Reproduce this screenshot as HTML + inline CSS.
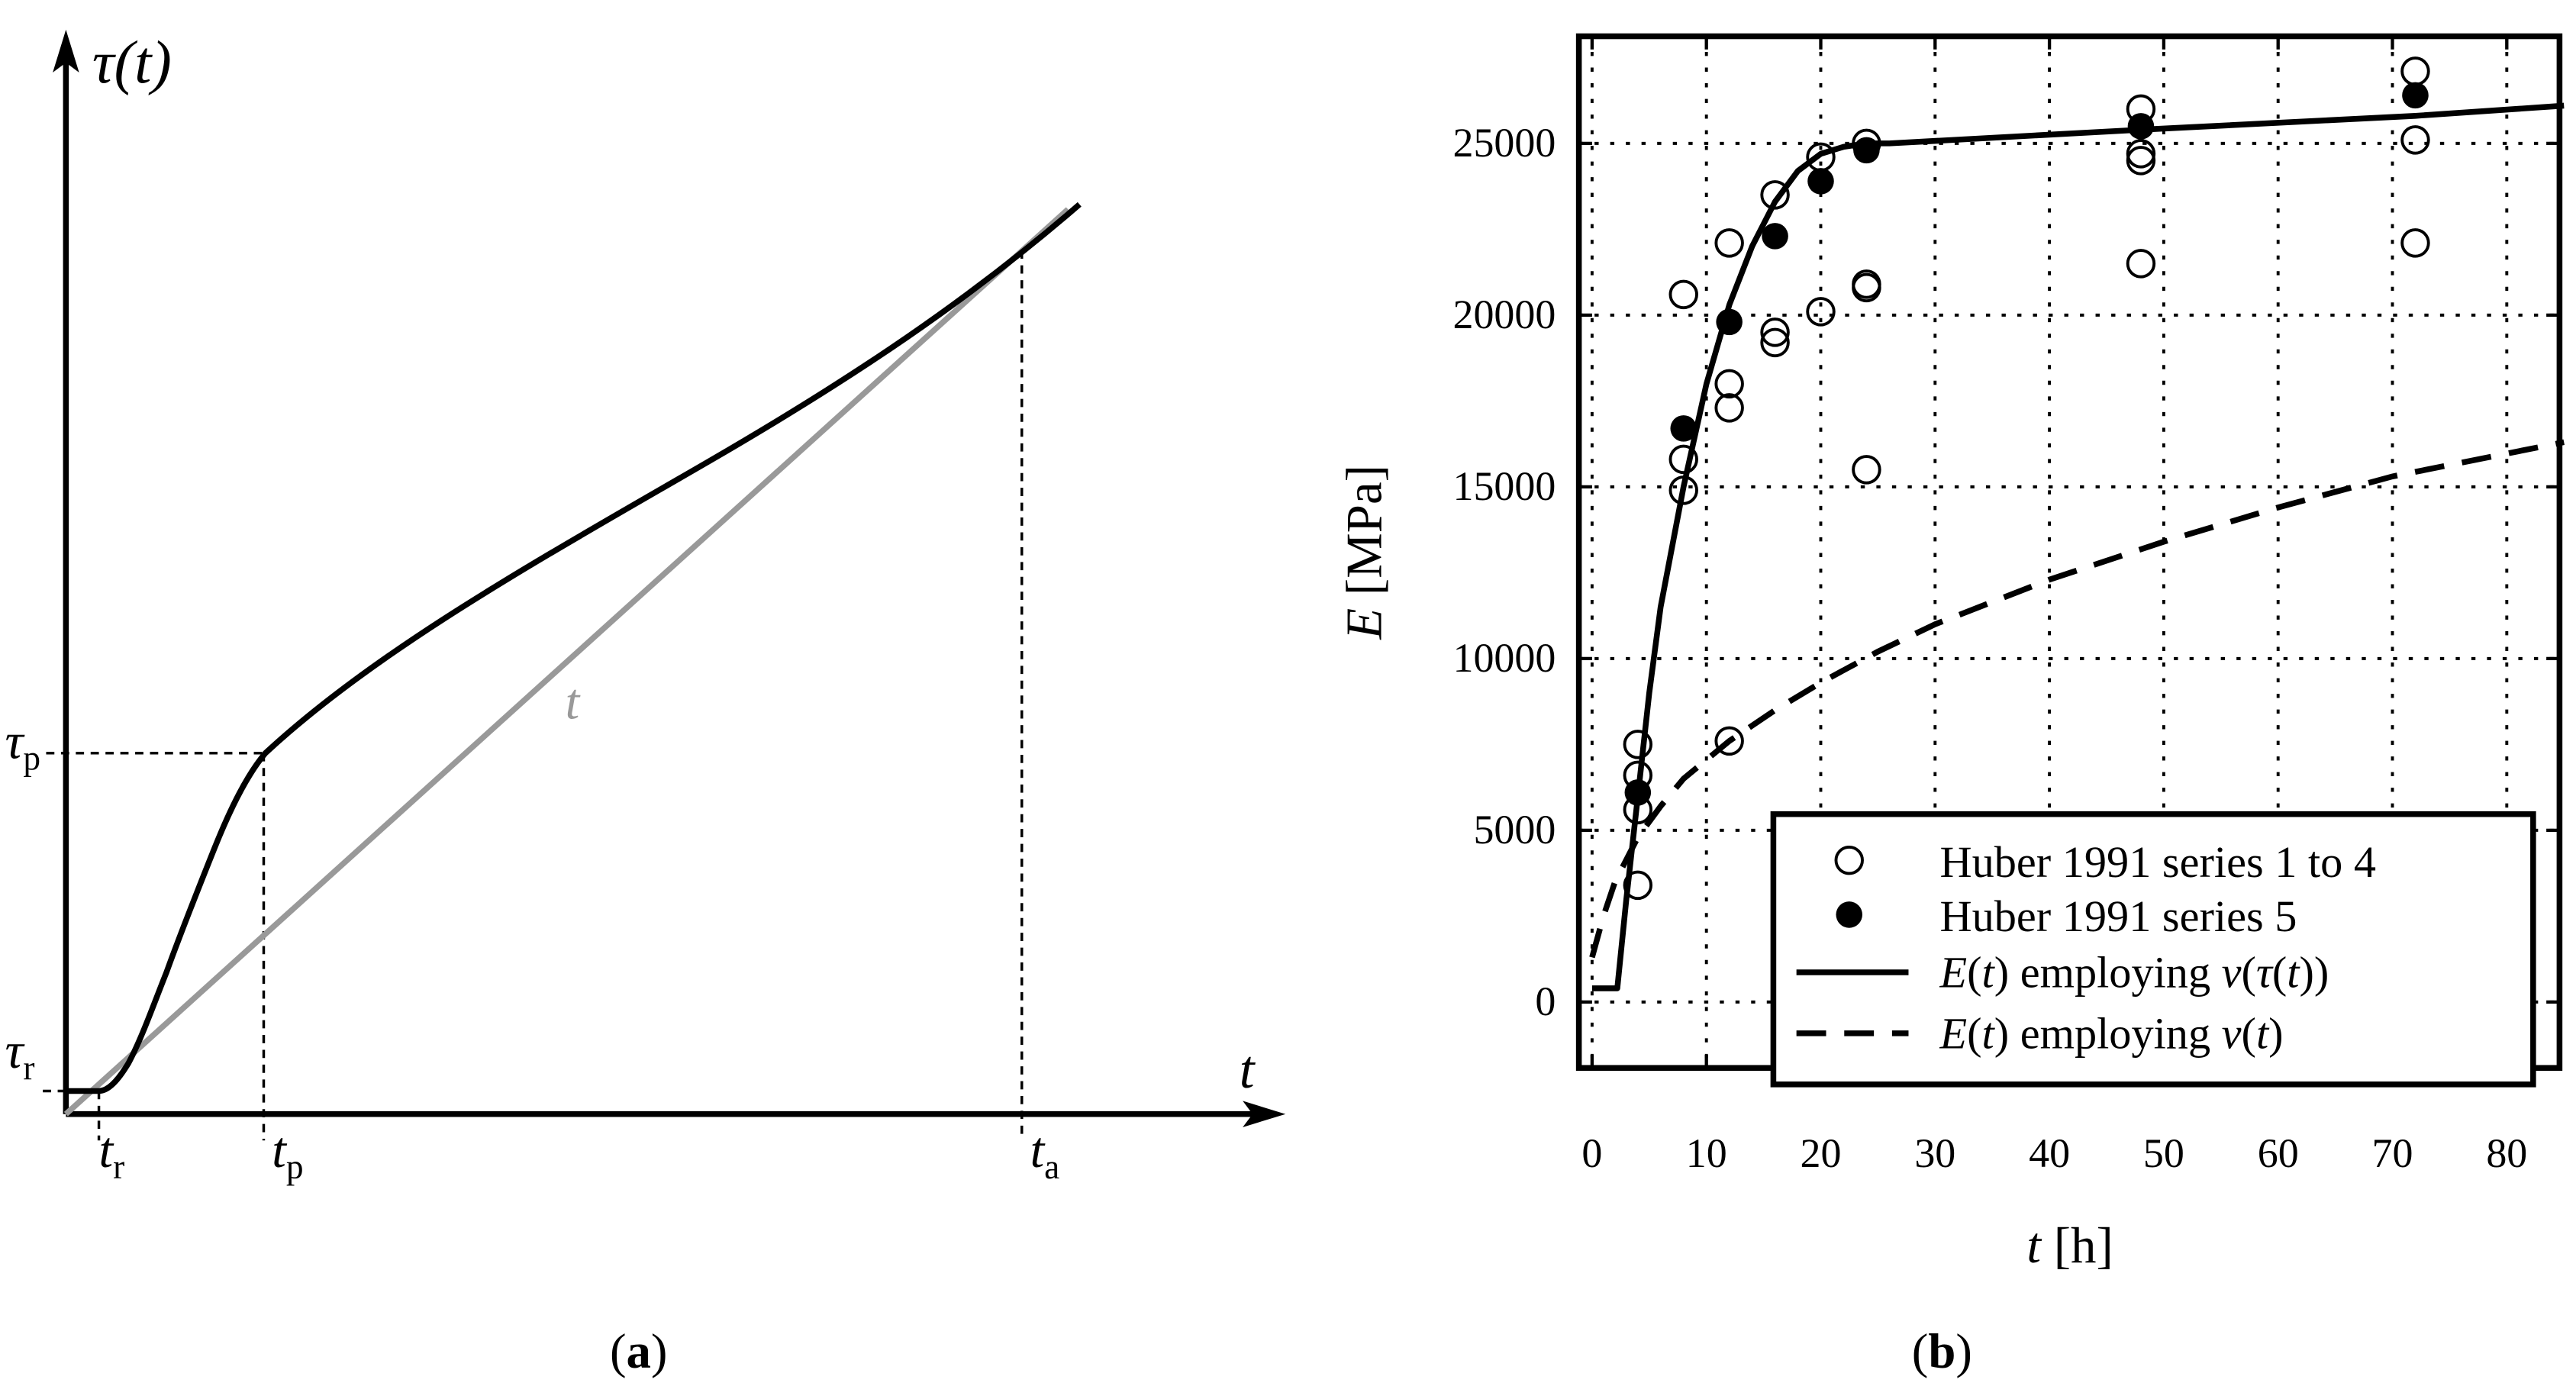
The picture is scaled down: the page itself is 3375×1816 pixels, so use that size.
<!DOCTYPE html>
<html><head><meta charset="utf-8"><style>html,body{margin:0;padding:0;background:#fff}svg{display:block}text{font-family:"Liberation Serif",serif}</style></head>
<body>
<svg id="fig" width="3375" height="1816" viewBox="0 0 1563 841" xmlns="http://www.w3.org/2000/svg">
<g id="left">
  <path d="M40,676 L40,30" stroke="#000" stroke-width="3.5" fill="none"/>
  <path d="M40,18 L32,44 L40,38 L48,44 Z" fill="#000"/>
  <path d="M40,676 L765,676" stroke="#000" stroke-width="3.5" fill="none"/>
  <path d="M780,676 L754,668 L760,676 L754,684 Z" fill="#000"/>
  <g stroke="#000" stroke-width="1.6" stroke-dasharray="5,4" fill="none">
    <path d="M28,457 L160,457 M160,457 L160,692 M620,152 L620,692 M60,662 L60,692 M26,662 L40,662"/>
  </g>
  <path d="M40,676 L648,127" stroke="#999" stroke-width="3.5" fill="none"/>
  <path d="M40,662 L60,662 C66,662 72,655 78,645 C86,630 93,610 101,590 C110,565 120,540 130,515 C140,490 150,470 161,457 C230,393 330,338 430,280 C518,229 588,182 655,124" stroke="#000" stroke-width="3.5" fill="none" stroke-linejoin="round"/>
  <text x="56" y="50" font-size="37" font-style="italic">τ(t)</text>
  <text x="3" y="460" font-size="31" font-style="italic">τ<tspan font-size="21" font-style="normal" dy="7">p</tspan></text>
  <text x="3" y="648" font-size="31" font-style="italic">τ<tspan font-size="21" font-style="normal" dy="7">r</tspan></text>
  <text x="752" y="660" font-size="33" font-style="italic">t</text>
  <text x="60" y="708" font-size="31" font-style="italic">t<tspan font-size="21" font-style="normal" dy="7">r</tspan></text>
  <text x="165" y="708" font-size="31" font-style="italic">t<tspan font-size="21" font-style="normal" dy="7">p</tspan></text>
  <text x="625" y="708" font-size="31" font-style="italic">t<tspan font-size="21" font-style="normal" dy="7">a</tspan></text>
  <text x="343" y="436" font-size="31" font-style="italic" fill="#999">t</text>
  <text x="370" y="830" font-size="30">(<tspan font-weight="bold">a</tspan>)</text>
</g>
<g id="right"></g>
<text x="1160" y="830" font-size="30">(<tspan font-weight="bold">b</tspan>)</text>
</svg>
<script>
const openT=[4,4,4,4,8,8,8,12,12,12,12,16,16,16,20,20,24,24,24,24,48,48,48,48,72,72,72];
const openE=[7500,6600,5600,3400,20600,15800,14900,22100,18000,17300,7600,23500,19500,19200,24600,20100,25000,20900,20800,15500,26000,24700,24500,21500,27100,25100,22100];
const filledT=[4,8,12,16,20,24,48,72];
const filledE=[6100,16700,19800,22300,23900,24800,25500,26400];
const solidT=[0,2.2,3,4,5,6,8,10,12,14,16,18,20,22,24,26,48,72,85];
const solidE=[400,400,3000,6000,9000,11500,15000,18000,20300,22000,23300,24200,24700,24900,25000,25000,25400,25800,26100];
const dashT=[0,1,2,4,6,8,12,16,20,25,30,40,50,60,70,85];
const dashE=[1300,2500,3500,4800,5700,6500,7600,8500,9300,10200,11000,12300,13400,14400,15300,16300];
const xTicks=[0,10,20,30,40,50,60,70,80];
const yTicks=[0,5000,10000,15000,20000,25000];
const NS="http://www.w3.org/2000/svg";
const g=document.getElementById('right');
const X0=958,X1=1553,Y0=22,Y1=648;
const sx=t=>966+(t-0)*(1521-966)/80;
const sy=e=>608-e*(608-87)/25000;
function mk(tag,attrs){const el=document.createElementNS(NS,tag);for(const k in attrs)el.setAttribute(k,attrs[k]);g.appendChild(el);return el;}
xTicks.forEach(t=>{const l=mk('line',{x1:sx(t),x2:sx(t),y1:Y0,y2:Y1,stroke:'#000','stroke-width':1.8,'stroke-dasharray':'2.5,7'});


const a=mk('line',{x1:sx(t),x2:sx(t),y1:Y1,y2:Y1-8,stroke:'#000','stroke-width':2});


const b=mk('line',{x1:sx(t),x2:sx(t),y1:Y0,y2:Y0+8,stroke:'#000','stroke-width':2});


const tx=mk('text',{x:sx(t),y:708,'font-size':25,'text-anchor':'middle'});tx.textContent=t;

});
yTicks.forEach(e=>{const l=mk('line',{x1:X0,x2:X1,y1:sy(e),y2:sy(e),stroke:'#000','stroke-width':1.8,'stroke-dasharray':'2.5,7'});


const a=mk('line',{x1:X0,x2:X0+8,y1:sy(e),y2:sy(e),stroke:'#000','stroke-width':2});


const b=mk('line',{x1:X1,x2:X1-8,y1:sy(e),y2:sy(e),stroke:'#000','stroke-width':2});


const tx=mk('text',{x:944,y:sy(e)+8,'font-size':25,'text-anchor':'end'});tx.textContent=e;

});
function path(ts,es){return ts.map((t,i)=>(i?'L':'M')+sx(t).toFixed(1)+','+sy(es[i]).toFixed(1)).join(' ');}
const sd=mk('path',{d:path(dashT,dashE),fill:'none',stroke:'#000','stroke-width':3.5,'stroke-dasharray':'18,11'});


const ss=mk('path',{d:path(solidT,solidE),fill:'none',stroke:'#000','stroke-width':3.5,'stroke-linejoin':'round'});


openT.forEach((t,i)=>{const c=mk('circle',{cx:sx(t),cy:sy(openE[i]),r:8,fill:'none',stroke:'#000','stroke-width':1.8});

});
filledT.forEach((t,i)=>{const c=mk('circle',{cx:sx(t),cy:sy(filledE[i]),r:8,fill:'#000'});

});
const fr=mk('rect',{x:X0,y:Y0,width:X1-X0,height:Y1-Y0,fill:'none',stroke:'#000','stroke-width':3.5});


const lg=mk('rect',{x:1076,y:494,width:461,height:164,fill:'#fff',stroke:'#000','stroke-width':3.5});


const lo=mk('circle',{cx:1122,cy:522,r:8,fill:'none',stroke:'#000','stroke-width':1.8});


const lf=mk('circle',{cx:1122,cy:555,r:8,fill:'#000'});


const ll=mk('line',{x1:1090,x2:1158,y1:590,y2:590,stroke:'#000','stroke-width':3.5});


const ld=mk('line',{x1:1090,x2:1158,y1:627,y2:627,stroke:'#000','stroke-width':3.5,'stroke-dasharray':'18,11'});


const t1=mk('text',{x:1177,y:532,'font-size':27});t1.textContent='Huber 1991 series 1 to 4';


const t2=mk('text',{x:1177,y:565,'font-size':27});t2.textContent='Huber 1991 series 5';


const t3=mk('text',{x:1177,y:599,'font-size':27});t3.innerHTML='<tspan font-style="italic">E</tspan>(<tspan font-style="italic">t</tspan>) employing <tspan font-style="italic">v</tspan>(<tspan font-style="italic">τ</tspan>(<tspan font-style="italic">t</tspan>))';


const t4=mk('text',{x:1177,y:636,'font-size':27});t4.innerHTML='<tspan font-style="italic">E</tspan>(<tspan font-style="italic">t</tspan>) employing <tspan font-style="italic">v</tspan>(<tspan font-style="italic">t</tspan>)';


const xl=mk('text',{x:1256,y:766,'font-size':31,'text-anchor':'middle'});xl.innerHTML='<tspan font-style="italic">t</tspan> [h]';


const yl=mk('text',{x:0,y:0,'font-size':31,'text-anchor':'middle',transform:'translate(838,335) rotate(-90)'});yl.innerHTML='<tspan font-style="italic">E</tspan> [MPa]';


</script>
</body></html>
